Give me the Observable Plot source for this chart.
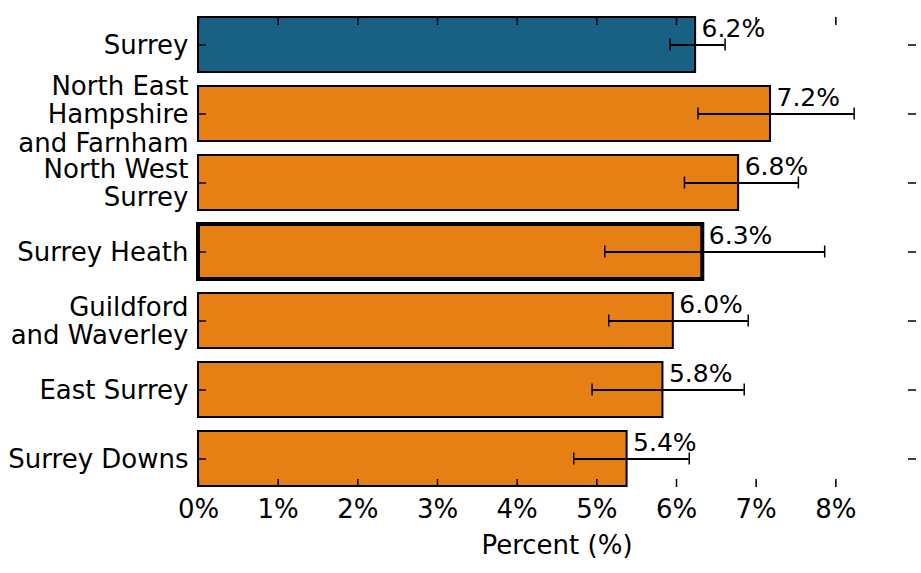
<!DOCTYPE html>
<html>
<head>
<meta charset="utf-8">
<script src="https://cdn.jsdelivr.net/npm/d3@7"></script>
<script src="https://cdn.jsdelivr.net/npm/@observablehq/plot@0.6"></script>
<style>
  html, body { margin: 0; padding: 0; background: #fff; }
  #chart svg { font-family: "DejaVu Sans", sans-serif; }
</style>
</head>
<body>
<div id="chart"></div>
<script>
const areas = ["Surrey", "North East\nHampshire\nand Farnham", "North West\nSurrey", "Surrey Heath", "Guildford\nand Waverley", "East Surrey", "Surrey Downs"];
const values = [6.24, 7.18, 6.78, 6.33, 5.96, 5.83, 5.38];
const lower = [5.92, 6.27, 6.10, 5.10, 5.15, 4.94, 4.71];
const upper = [6.61, 8.23, 7.53, 7.86, 6.90, 6.85, 6.16];
const xTicks = [0, 1, 2, 3, 4, 5, 6, 7, 8];
const comparator = "Surrey";
const selected = "Surrey Heath";

const data = areas.map((a, i) => ({area: a, value: values[i], lo: lower[i], hi: upper[i]}));

const W = 921, H = 573;
const mTop = 16, mBottom = 86, mLeft = 198, mRight = 6;

const chart = Plot.plot({
  width: W,
  height: H,
  marginTop: mTop,
  marginBottom: mBottom,
  marginLeft: mLeft,
  marginRight: mRight,
  style: {fontFamily: "DejaVu Sans, sans-serif", fontSize: "26px", background: "white", overflow: "visible"},
  x: {domain: [0, 9], axis: null},
  y: {domain: areas, padding: 0.2, paddingOuter: 0, axis: null},
  marks: [
    Plot.barX(data, {
      x: "value", y: "area",
      fill: d => d.area === comparator ? "#186084" : "#e68014",
      stroke: "black",
      strokeWidth: d => d.area === selected ? 4 : 2
    }),
    Plot.ruleY(data, {y: "area", x1: "lo", x2: "hi", stroke: "black", strokeWidth: 2}),
    Plot.tickX(data, {x: "lo", y: "area", stroke: "black", strokeWidth: 1.5, insetTop: 21.5, insetBottom: 21.5}),
    Plot.tickX(data, {x: "hi", y: "area", stroke: "black", strokeWidth: 1.5, insetTop: 21.5, insetBottom: 21.5}),
    Plot.text(data, {
      x: "value", y: "area",
      text: d => d.value.toFixed(1) + "%",
      textAnchor: "start", dx: 6, dy: -16,
      fontSize: 25, fill: "black"
    }),
    // category labels
    Plot.text(areas, {
      y: d => d, frameAnchor: "left", textAnchor: "end", dx: -10,
      text: d => d, fontSize: 26, lineHeight: 1.1, fill: "black"
    }),
    // inward ticks on all four sides
    Plot.axisX({anchor: "bottom", ticks: xTicks, tickSize: -8, tickFormat: () => "", stroke: "black", strokeWidth: 1.5, label: null}),
    Plot.axisX({anchor: "top", ticks: xTicks, tickSize: -8, tickFormat: () => "", stroke: "black", strokeWidth: 1.5, label: null}),
    Plot.axisY({anchor: "left", tickSize: -8, tickFormat: () => "", stroke: "black", strokeWidth: 1.5, label: null}),
    Plot.axisY({anchor: "right", tickSize: -8, tickFormat: () => "", stroke: "black", strokeWidth: 1.5, label: null}),
    // x tick labels
    Plot.axisX({anchor: "bottom", ticks: xTicks, tickSize: 0, tickPadding: 12, tickFormat: d => d + "%", fontSize: 26, label: null}),
    Plot.text(["Percent (%)"], {frameAnchor: "bottom", text: d => d, dy: 66, fontSize: 26, fill: "black"})
  ]
});

document.getElementById("chart").appendChild(chart);
</script>
</body>
</html>
